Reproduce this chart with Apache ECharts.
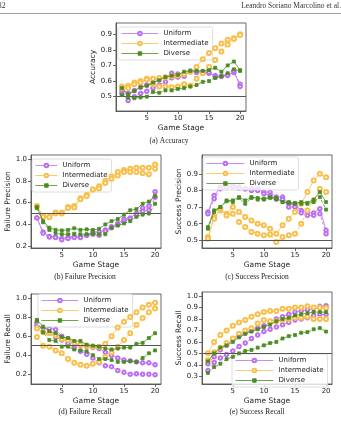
<!DOCTYPE html>
<html>
<head>
<meta charset="utf-8">
<script src="https://cdn.jsdelivr.net/npm/echarts@6/dist/echarts.min.js"></script>
<style>
html, body { margin: 0; padding: 0; background: #fff; }
#chart { width: 341px; height: 429px; }
</style>
</head>
<body>
<div id="chart"></div>
<script>
// game stages (x axis)
var stages = [1, 2, 3, 4, 5, 6, 7, 8, 9, 10, 11, 12, 13, 14, 15, 16, 17, 18, 19, 20];
var xTicks = [5, 10, 15, 20];

// (a) Accuracy
var accUniform1 = [0.54, 0.52, 0.54, 0.56, 0.575, 0.59, 0.61, 0.625, 0.65, 0.645, 0.64, 0.66, 0.66, 0.655, 0.65, 0.635, 0.63, 0.64, 0.655, 0.58];
var accUniform2 = [0.52, 0.475, 0.50, 0.52, 0.535, 0.555, 0.575, 0.595, 0.62, 0.625, 0.63, 0.665, 0.655, 0.66, 0.655, 0.625, 0.63, 0.635, 0.665, 0.565];
var accInter1 = [0.565, 0.57, 0.59, 0.60, 0.615, 0.615, 0.62, 0.625, 0.63, 0.635, 0.645, 0.66, 0.69, 0.74, 0.78, 0.81, 0.84, 0.865, 0.875, 0.90];
var accInter2 = [0.555, 0.555, 0.58, 0.59, 0.61, 0.58, 0.565, 0.565, 0.56, 0.565, 0.58, 0.57, 0.615, 0.65, 0.69, 0.735, 0.79, 0.835, 0.87, 0.895];
var accDiverse1 = [0.555, 0.515, 0.535, 0.56, 0.57, 0.59, 0.605, 0.625, 0.635, 0.64, 0.66, 0.665, 0.665, 0.665, 0.67, 0.685, 0.66, 0.70, 0.725, 0.67];
var accDiverse2 = [0.51, 0.495, 0.49, 0.495, 0.50, 0.53, 0.525, 0.54, 0.54, 0.55, 0.555, 0.565, 0.575, 0.595, 0.60, 0.62, 0.63, 0.65, 0.675, 0.665];
var accTicks = [0.5, 0.6, 0.7, 0.8, 0.9];

// (b) Failure Precision
var fpUniform1 = [0.46, 0.33, 0.29, 0.285, 0.27, 0.28, 0.29, 0.29, 0.30, 0.33, 0.33, 0.35, 0.38, 0.41, 0.45, 0.46, 0.50, 0.55, 0.57, 0.70];
var fpUniform2 = [0.46, 0.32, 0.285, 0.28, 0.26, 0.27, 0.28, 0.28, 0.30, 0.31, 0.30, 0.34, 0.37, 0.40, 0.43, 0.45, 0.49, 0.52, 0.53, 0.65];
var fpInter1 = [0.57, 0.48, 0.47, 0.51, 0.51, 0.56, 0.57, 0.64, 0.67, 0.72, 0.75, 0.80, 0.84, 0.88, 0.90, 0.91, 0.92, 0.92, 0.92, 0.95];
var fpInter2 = [0.565, 0.47, 0.465, 0.50, 0.50, 0.55, 0.555, 0.63, 0.66, 0.72, 0.73, 0.78, 0.82, 0.85, 0.88, 0.88, 0.88, 0.87, 0.86, 0.91];
var fpDiverse1 = [0.56, 0.43, 0.37, 0.35, 0.345, 0.35, 0.365, 0.35, 0.355, 0.35, 0.36, 0.40, 0.43, 0.45, 0.49, 0.53, 0.54, 0.59, 0.61, 0.66];
var fpDiverse2 = [0.55, 0.42, 0.35, 0.32, 0.31, 0.31, 0.315, 0.31, 0.31, 0.315, 0.31, 0.31, 0.37, 0.39, 0.41, 0.43, 0.47, 0.49, 0.50, 0.59];
var fpTicks = [0.2, 0.4, 0.6, 0.8, 1.0];

// (c) Success Precision
var spUniform1 = [0.67, 0.77, 0.82, 0.83, 0.83, 0.82, 0.81, 0.81, 0.81, 0.79, 0.79, 0.76, 0.76, 0.72, 0.71, 0.68, 0.665, 0.665, 0.69, 0.56];
var spUniform2 = [0.66, 0.75, 0.81, 0.82, 0.82, 0.815, 0.81, 0.80, 0.80, 0.78, 0.77, 0.75, 0.745, 0.70, 0.70, 0.665, 0.65, 0.65, 0.66, 0.54];
var spInter1 = [0.52, 0.64, 0.68, 0.66, 0.70, 0.67, 0.64, 0.62, 0.60, 0.59, 0.57, 0.54, 0.59, 0.63, 0.67, 0.72, 0.79, 0.86, 0.90, 0.88];
var spInter2 = [0.51, 0.63, 0.69, 0.65, 0.66, 0.61, 0.58, 0.55, 0.54, 0.53, 0.535, 0.49, 0.52, 0.53, 0.54, 0.60, 0.68, 0.74, 0.81, 0.79];
var spDiverse1 = [0.58, 0.68, 0.70, 0.74, 0.74, 0.76, 0.74, 0.76, 0.755, 0.75, 0.76, 0.755, 0.73, 0.73, 0.725, 0.73, 0.725, 0.745, 0.79, 0.73];
var spDiverse2 = [0.57, 0.67, 0.70, 0.735, 0.73, 0.755, 0.72, 0.755, 0.745, 0.745, 0.755, 0.745, 0.73, 0.725, 0.72, 0.72, 0.72, 0.73, 0.76, 0.685];
var spTicks = [0.5, 0.6, 0.7, 0.8, 0.9];

// (d) Failure Recall
var frUniform1 = [0.71, 0.69, 0.68, 0.67, 0.60, 0.57, 0.53, 0.50, 0.49, 0.48, 0.47, 0.43, 0.40, 0.37, 0.35, 0.34, 0.33, 0.32, 0.32, 0.30];
var frUniform2 = [0.74, 0.65, 0.63, 0.59, 0.56, 0.52, 0.48, 0.44, 0.41, 0.37, 0.32, 0.29, 0.28, 0.24, 0.22, 0.20, 0.205, 0.20, 0.20, 0.195];
var frInter1 = [0.68, 0.64, 0.63, 0.61, 0.57, 0.56, 0.53, 0.51, 0.50, 0.49, 0.49, 0.52, 0.60, 0.69, 0.75, 0.80, 0.85, 0.90, 0.93, 0.95];
var frInter2 = [0.59, 0.50, 0.49, 0.45, 0.42, 0.36, 0.32, 0.30, 0.29, 0.31, 0.33, 0.38, 0.43, 0.49, 0.56, 0.63, 0.72, 0.79, 0.85, 0.89];
var frDiverse1 = [0.77, 0.70, 0.65, 0.63, 0.59, 0.58, 0.55, 0.55, 0.51, 0.50, 0.49, 0.47, 0.46, 0.47, 0.48, 0.48, 0.52, 0.53, 0.58, 0.63];
var frDiverse2 = [0.76, 0.64, 0.56, 0.55, 0.49, 0.49, 0.46, 0.45, 0.44, 0.40, 0.36, 0.36, 0.35, 0.33, 0.33, 0.34, 0.33, 0.37, 0.42, 0.45];
var frTicks = [0.2, 0.4, 0.6, 0.8, 1.0];

// (e) Success Recall
var srUniform1 = [0.41, 0.47, 0.53, 0.57, 0.62, 0.65, 0.68, 0.70, 0.72, 0.74, 0.77, 0.80, 0.82, 0.84, 0.86, 0.87, 0.88, 0.89, 0.91, 0.915];
var srUniform2 = [0.35, 0.42, 0.46, 0.49, 0.52, 0.56, 0.59, 0.63, 0.66, 0.69, 0.71, 0.73, 0.75, 0.77, 0.79, 0.80, 0.81, 0.83, 0.84, 0.84];
var srInter1 = [0.50, 0.60, 0.66, 0.70, 0.74, 0.77, 0.79, 0.82, 0.84, 0.86, 0.87, 0.87, 0.89, 0.89, 0.90, 0.90, 0.91, 0.90, 0.90, 0.895];
var srInter2 = [0.44, 0.51, 0.55, 0.59, 0.63, 0.67, 0.70, 0.72, 0.76, 0.79, 0.78, 0.78, 0.79, 0.80, 0.81, 0.81, 0.82, 0.80, 0.80, 0.80];
var srDiverse1 = [0.43, 0.50, 0.55, 0.57, 0.60, 0.64, 0.67, 0.69, 0.71, 0.73, 0.75, 0.78, 0.80, 0.81, 0.83, 0.84, 0.85, 0.86, 0.86, 0.86];
var srDiverse2 = [0.33, 0.38, 0.41, 0.45, 0.47, 0.50, 0.52, 0.53, 0.55, 0.57, 0.59, 0.60, 0.63, 0.65, 0.66, 0.68, 0.685, 0.71, 0.72, 0.69];
var srTicks = [0.3, 0.4, 0.5, 0.6, 0.7, 0.8, 0.9, 1.0];

var groupNames = ['Uniform', 'Intermediate', 'Diverse'];

var purple = '#bd6ef2';
var yellow = '#f9bf4c';
var green = '#4b8d22';
var frame = '#444';
var sans = 'DejaVu Sans';
var serif = 'Liberation Serif';

// grid boxes: [left, top, width, height]
var boxes = [
    [116, 23, 130, 88],
    [31, 155, 130, 93],
    [202, 155, 130, 93],
    [31, 294, 130, 90],
    [202, 292, 130, 92]
];
var yRanges = [[0.408, 0.972], [0.184, 1.037], [0.454, 1.013], [0.098, 1.042], [0.233, 1.035]];
var yNames = ['Accuracy', 'Failure Precision', 'Success Precision', 'Failure Recall', 'Success Recall'];
var yTickSets = [accTicks, fpTicks, spTicks, frTicks, srTicks];
var plotData = [
    [accUniform1, accUniform2, accInter1, accInter2, accDiverse1, accDiverse2],
    [fpUniform1, fpUniform2, fpInter1, fpInter2, fpDiverse1, fpDiverse2],
    [spUniform1, spUniform2, spInter1, spInter2, spDiverse1, spDiverse2],
    [frUniform1, frUniform2, frInter1, frInter2, frDiverse1, frDiverse2],
    [srUniform1, srUniform2, srInter1, srInter2, srDiverse1, srDiverse2]
];
var captions = ['(a) Accuracy', '(b) Failure Precision', '(c) Success Precision', '(d) Failure Recall', '(e) Success Recall'];
var captionPos = [[169, 141], [85, 277], [257, 277], [85, 412], [257, 412]];
// legend: [left, top, itemWidth]
var legendPos = [[118, 27, 37], [32, 159, 22], [203, 157, 38], [38, 294, 37], [232, 354, 38]];

var styles = [
    { color: purple, symbol: 'emptyCircle', size: 3.5 },
    { color: yellow, symbol: 'emptyCircle', size: 4 },
    { color: green, symbol: 'rect', size: 3 }
];

var grids = [], xAxes = [], yAxes = [], series = [], legends = [], graphics = [];

for (var g = 0; g < 5; g++) {
    var b = boxes[g];
    grids.push({ left: b[0], top: b[1], width: b[2], height: b[3], show: true,
        borderColor: frame, borderWidth: 0.8, backgroundColor: 'transparent' });
    xAxes.push({
        type: 'value', gridIndex: g, min: 0.05, max: 20.95,
        name: 'Game Stage', nameLocation: 'middle', nameGap: 13,
        nameTextStyle: { fontFamily: sans, fontSize: 7.5, color: '#222' },
        axisLine: { show: true, lineStyle: { color: frame, width: 0.8 } },
        axisTick: { show: true, length: 3, customValues: xTicks, lineStyle: { color: frame, width: 0.8 } },
        axisLabel: { customValues: xTicks, margin: 4, fontFamily: sans, fontSize: 7, color: '#222' },
        splitLine: { show: false }
    });
    yAxes.push({
        type: 'value', gridIndex: g, min: yRanges[g][0], max: yRanges[g][1],
        name: yNames[g], nameLocation: 'middle', nameGap: g === 0 ? 15 : 16,
        nameTextStyle: { fontFamily: sans, fontSize: 7.5, color: '#222' },
        axisLine: { show: true, lineStyle: { color: frame, width: 0.8 } },
        axisTick: { show: true, length: 3, customValues: yTickSets[g], lineStyle: { color: frame, width: 0.8 } },
        axisLabel: { customValues: yTickSets[g], margin: 4, fontFamily: sans, fontSize: 7, color: '#222',
            formatter: function (v) { return v.toFixed(1); } },
        splitLine: { show: false }
    });
    for (var k = 0; k < 6; k++) {
        var st = styles[Math.floor(k / 2)];
        var vals = plotData[g][k];
        var s = {
            type: 'line', name: groupNames[Math.floor(k / 2)],
            xAxisIndex: g, yAxisIndex: g,
            data: stages.map(function (x, i) { return [x, vals[i]]; }),
            symbol: st.symbol, symbolSize: st.size,
            itemStyle: { color: st.color, borderColor: st.color, borderWidth: 0.8 },
            lineStyle: { color: st.color, width: 0.8, type: k % 2 === 0 ? 'solid' : [3, 2] },
            emphasis: { disabled: true },
            z: 3 + Math.floor(k / 2)
        };
        if (k === 0) {
            s.markLine = { silent: true, symbol: 'none', label: { show: false },
                lineStyle: { color: '#555', type: 'solid', width: 1 },
                data: [{ yAxis: 0.5 }] };
        }
        series.push(s);
    }
    var lp = legendPos[g];
    legends.push({
        data: groupNames, orient: 'vertical', left: lp[0], top: lp[1],
        itemWidth: lp[2], itemHeight: 4.5, itemGap: 3, padding: [3, 4, 3, 3],
        backgroundColor: 'rgba(255,255,255,0.8)', borderColor: '#d6d6d6', borderWidth: 0.8, borderRadius: 2,
        itemStyle: { borderWidth: 0.8 },
        lineStyle: { width: 0.8 },
        textStyle: { fontFamily: sans, fontSize: 7, color: '#222', lineHeight: 7 },
        selectedMode: false
    });
    graphics.push({ type: 'text', x: captionPos[g][0], y: captionPos[g][1],
        style: { text: captions[g], textAlign: 'center', textVerticalAlign: 'middle',
            font: '7.5px "' + serif + '"', fill: '#222' } });
}

// page header
graphics.push({ type: 'text', x: -2, y: 6, style: { text: '32', textVerticalAlign: 'middle', font: '7.5px "' + serif + '"', fill: '#333' } });
graphics.push({ type: 'text', x: 341, y: 6, style: { text: 'Leandro Soriano Marcolino et al.', textAlign: 'right', textVerticalAlign: 'middle', font: '7.5px "' + serif + '"', fill: '#333' } });
graphics.push({ type: 'line', shape: { x1: 0, y1: 13.5, x2: 341, y2: 13.5 }, style: { stroke: '#888', lineWidth: 0.8 } });

var chart = echarts.init(document.getElementById('chart'));
chart.setOption({
    animation: false,
    backgroundColor: '#fff',
    grid: grids,
    xAxis: xAxes,
    yAxis: yAxes,
    legend: legends,
    series: series,
    graphic: graphics
});
</script>
</body>
</html>
